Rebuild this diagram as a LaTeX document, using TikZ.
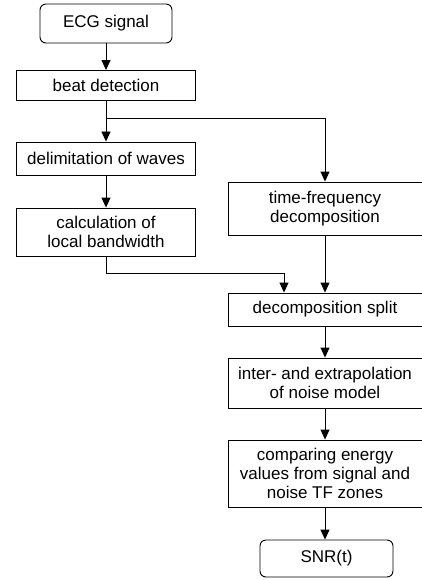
\documentclass[tikz,border=0pt]{standalone}
\usepackage{fontspec}
\setmainfont{Liberation Sans}
\usetikzlibrary{arrows.meta}
\begin{document}
\begin{tikzpicture}[x=1pt,y=-1pt,
  box/.style={draw,line width=0.9pt,align=center,inner sep=0pt,font=\fontsize{17}{19}\selectfont},
  rbox/.style={box,rounded corners=6pt},
  arr/.style={line width=0.9pt,-{Triangle[width=9pt,length=10pt]}}]
\useasboundingbox (0,0) rectangle (422,580);
\node[rbox,minimum width=132pt,minimum height=39pt] (ecg) at (106,23.5) {ECG signal};
\node[box,minimum width=179pt,minimum height=30pt] (beat) at (106,85.5) {beat detection};
\node[box,minimum width=179pt,minimum height=33pt] (delim) at (106,158.5) {delimitation of waves};
\node[box,minimum width=179pt,minimum height=48pt] (calc) at (106,232) {calculation of\\local bandwidth};
\node[box,minimum width=194pt,minimum height=53pt] (tf) at (325,208.5) {time-frequency\\decomposition};
\node[box,minimum width=194pt,minimum height=33pt] (split) at (325,309.5) {decomposition split};
\node[box,minimum width=194pt,minimum height=50pt] (inter) at (325,383) {inter- and extrapolation\\of noise model};
\node[box,minimum width=194pt,minimum height=67pt] (comp) at (325,473.5) {comparing energy\\values from signal and\\noise TF zones};
\node[rbox,minimum width=133pt,minimum height=37pt] (snr) at (326.5,558.5) {SNR(t)};
\coordinate (br) at (106,118);
\coordinate (c1) at (284,273);
\draw[arr] (ecg.south) -- (beat.north);
\draw[arr] (beat.south) -- (delim.north);
\draw[arr] (br) -| (tf.north);
\draw[arr] (delim.south) -- (calc.north);
\draw[arr] (calc.south) |- (c1) -- (c1 |- split.north);
\draw[arr] (tf.south) -- (split.north);
\draw[arr] (split.south) -- (inter.north);
\draw[arr] (inter.south) -- (comp.north);
\draw[arr] (comp.south) -- (comp.south |- snr.north);
\end{tikzpicture}
\end{document}
